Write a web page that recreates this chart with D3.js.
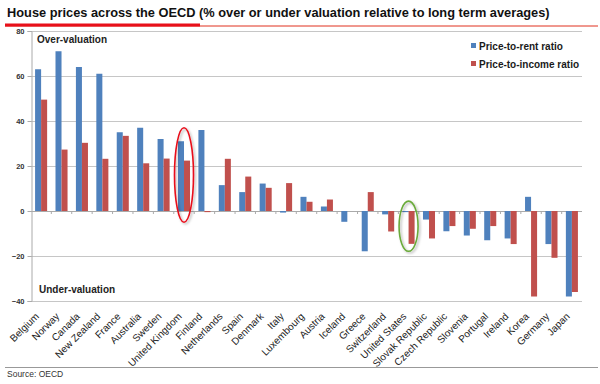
<!DOCTYPE html>
<html lang="en">
  <head>
    <meta charset="utf-8" />
    <title>House prices across the OECD</title>
    <script src="https://d3js.org/d3.v7.js"></script>
    <style>
      body { margin: 0; background: #fff; }
      text { font-family: "Liberation Sans", Arial, sans-serif; }
    </style>
  </head>
  <body>
    <script>

    // data
    var countries = ["Belgium", "Norway", "Canada", "New Zealand", "France", "Australia", "Sweden",
      "United Kingdom", "Finland", "Netherlands", "Spain", "Denmark", "Italy", "Luxembourg", "Austria",
      "Iceland", "Greece", "Switzerland", "United States", "Slovak Republic", "Czech Republic",
      "Slovenia", "Portugal", "Ireland", "Korea", "Germany", "Japan"];
    var priceToRent = [63, 71, 64, 61, 35, 37, 32, 31, 36, 11.5, 8.4, 12.2, -0.7, 6.3, 2,
      -4.8, -17.9, -1.5, -0.5, -3.8, -9, -10.9, -13, -12.2, 6.3, -14.7, -38];
    var priceToIncome = [49.5, 27.3, 30.3, 23.2, 33.4, 21.2, 23.3, 22.4, -0.5, 23.2, 15.3, 10.3, 12.4, 4.1, 5.1,
      0, 8.4, -9.1, -14.6, -12.2, -6.7, -7.9, -6.7, -14.7, -38, -20.8, -36];
    var seriesNames = ["Price-to-rent ratio", "Price-to-income ratio"];
    var yTicks = [80, 60, 40, 20, 0, -20, -40];

    var colors = ["#4f81bd", "#c0504d"];
    var w = 600, h = 384;
    var plotLeft = 31, plotRight = 582, plotTop = 31, plotBottom = 301;

    var svg = d3.select("body")
      .append("svg")
        .attr("width", w)
        .attr("height", h);

    var defs = svg.append("defs");
    defs.append("filter")
      .attr("id", "shadow")
      .attr("x", "-50%").attr("y", "-20%")
      .attr("width", "200%").attr("height", "140%")
      .append("feDropShadow")
        .attr("dx", 1.5).attr("dy", 1.5)
        .attr("stdDeviation", 1)
        .attr("flood-color", "#000")
        .attr("flood-opacity", 0.3);

    // scales
    var x = d3.scaleBand()
      .domain(countries)
      .range([plotLeft, plotRight])
      .paddingInner(0.41)
      .paddingOuter(0.2);

    var xs = d3.scaleBand()
      .domain(seriesNames)
      .range([0, x.bandwidth()]);

    var y = d3.scaleLinear()
      .domain([-40, 80])
      .range([plotBottom, plotTop]);

    // title
    svg.append("text")
      .attr("x", 7)
      .attr("y", 17)
      .attr("font-size", 12.8)
      .attr("font-weight", "bold")
      .attr("fill", "#111")
      .text("House prices across the OECD (% over or under valuation relative to long term averages)");

    svg.append("line")
      .attr("x1", 5).attr("x2", 598)
      .attr("y1", 26).attr("y2", 26)
      .attr("stroke", "#e0301e")
      .attr("stroke-width", 1);
    svg.append("line")
      .attr("x1", 5).attr("x2", 200)
      .attr("y1", 25).attr("y2", 25)
      .attr("stroke", "#e8101a")
      .attr("stroke-width", 3);

    // gridlines
    svg.append("g")
      .selectAll("line")
      .data(yTicks)
      .join("line")
        .attr("x1", plotLeft)
        .attr("x2", plotRight)
        .attr("y1", d => y(d) + 0.5)
        .attr("y2", d => y(d) + 0.5)
        .attr("stroke", d => d === 0 ? "#aaa" : "#c6c6c6")
        .attr("stroke-width", 1);

    // y axis
    var yAxis = svg.append("g")
      .attr("transform", `translate(${plotLeft + 0.5},0)`)
      .call(d3.axisLeft(y).tickValues(yTicks).tickSize(4).tickPadding(3));
    yAxis.select(".domain").attr("stroke", "#aaa");
    yAxis.selectAll(".tick line").attr("stroke", "#aaa");
    yAxis.selectAll(".tick text")
      .attr("font-family", "Liberation Sans, Arial, sans-serif")
      .attr("font-size", 7.5)
      .attr("font-weight", "bold")
      .attr("fill", "#333");

    // category tick marks on the zero line
    svg.append("g")
      .selectAll("line")
      .data(countries.slice(1))
      .join("line")
        .attr("x1", d => x(d) - x.step() * x.paddingInner() / 2)
        .attr("x2", d => x(d) - x.step() * x.paddingInner() / 2)
        .attr("y1", y(0))
        .attr("y2", y(0) + 3)
        .attr("stroke", "#aaa");

    // bars
    var rows = countries.map((c, i) => ({country: c, values: [priceToRent[i], priceToIncome[i]]}));
    svg.append("g")
      .selectAll("g")
      .data(rows)
      .join("g")
        .attr("transform", d => `translate(${x(d.country)},0)`)
      .selectAll("rect")
      .data(d => d.values.map((v, j) => ({series: seriesNames[j], value: v, j: j})))
      .join("rect")
        .attr("x", d => xs(d.series))
        .attr("y", d => y(Math.max(0, d.value)))
        .attr("width", xs.bandwidth())
        .attr("height", d => Math.abs(y(d.value) - y(0)))
        .attr("fill", d => colors[d.j]);

    // category labels
    svg.append("g")
      .selectAll("text")
      .data(countries)
      .join("text")
        .attr("transform", d => `translate(${x(d) + x.bandwidth() / 2 - 1.5},317) rotate(-45)`)
        .attr("text-anchor", "end")
        .attr("font-size", 10)
        .attr("fill", "#222")
        .text(d => d);

    // annotations
    svg.append("text")
      .attr("x", 37).attr("y", 43)
      .attr("font-size", 10).attr("font-weight", "bold").attr("fill", "#222")
      .text("Over-valuation");
    svg.append("text")
      .attr("x", 39).attr("y", 293)
      .attr("font-size", 10).attr("font-weight", "bold").attr("fill", "#222")
      .text("Under-valuation");

    // legend
    var legend = svg.append("g")
      .selectAll("g")
      .data(seriesNames)
      .join("g")
        .attr("transform", (d, i) => `translate(471,${43 + i * 18})`);
    legend.append("rect")
      .attr("width", 5).attr("height", 5)
      .attr("fill", (d, i) => colors[i]);
    legend.append("text")
      .attr("x", 8).attr("y", 6.5)
      .attr("font-size", 10).attr("font-weight", "bold").attr("fill", "#1a1a1a")
      .text(d => d);

    // highlight ellipses
    var ellipses = [
      {country: "United Kingdom", hi: 37, lo: -5, color: "#e8101a"},
      {country: "United States", hi: 4.4, lo: -17.9, color: "#6aaa3a"}
    ];
    svg.append("g")
      .selectAll("ellipse")
      .data(ellipses)
      .join("ellipse")
        .attr("cx", d => x(d.country) + x.bandwidth() / 2)
        .attr("cy", d => (y(d.hi) + y(d.lo)) / 2)
        .attr("rx", 9.5)
        .attr("ry", d => (y(d.lo) - y(d.hi)) / 2)
        .attr("fill", "none")
        .attr("stroke", d => d.color)
        .attr("stroke-width", 1.6)
        .attr("filter", "url(#shadow)");

    // footer
    svg.append("line")
      .attr("x1", 5).attr("x2", 598)
      .attr("y1", 367.5).attr("y2", 367.5)
      .attr("stroke", "#999");
    svg.append("text")
      .attr("x", 7).attr("y", 377)
      .attr("font-size", 8.5).attr("fill", "#333")
      .text("Source: OECD");

    </script>
  </body>
</html>
